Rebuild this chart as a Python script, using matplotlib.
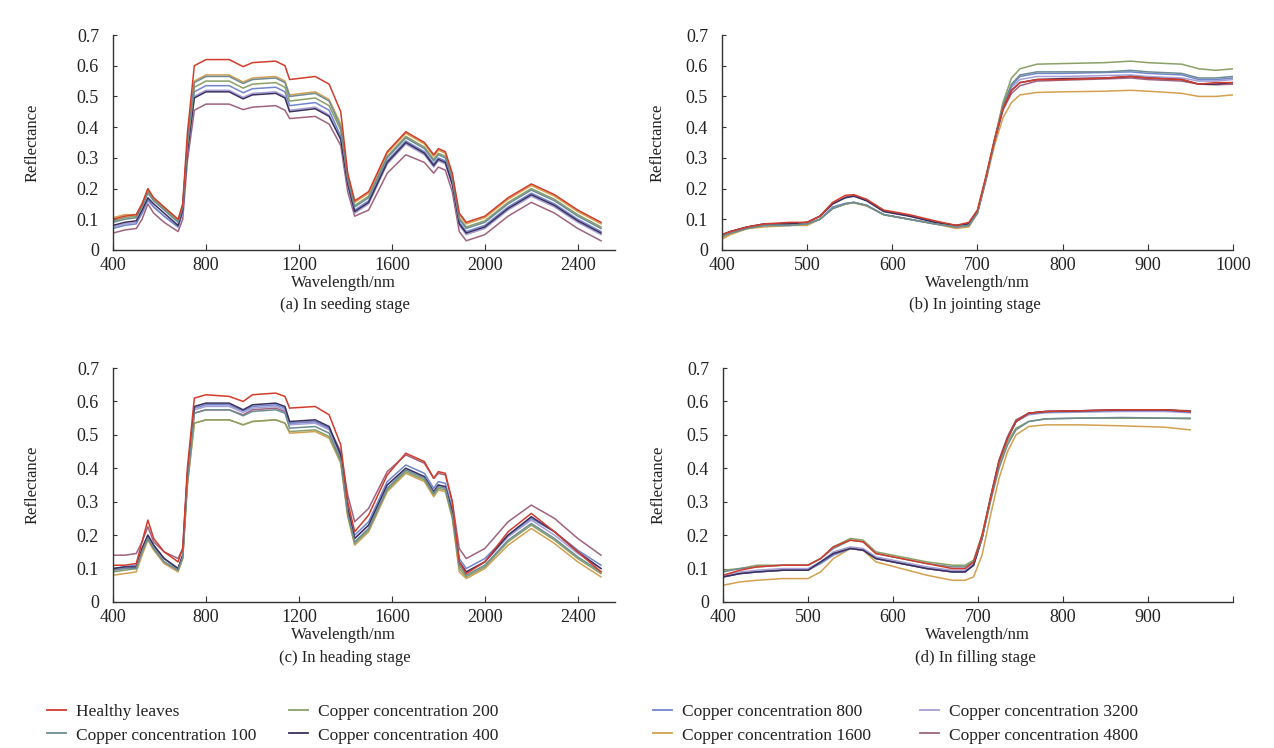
import matplotlib
matplotlib.use("Agg")
from matplotlib import pyplot as plt

plt.rcParams['font.family'] = ['Liberation Serif', 'DejaVu Serif']

# 图例名称和颜色
names = ["Healthy leaves", "Copper concentration 100", "Copper concentration 200",
         "Copper concentration 400", "Copper concentration 800", "Copper concentration 1600",
         "Copper concentration 3200", "Copper concentration 4800"]
colors = ["#d23c2c", "#6d8c93", "#8aa067", "#3b2f5e", "#7186cc", "#d4a050", "#a7a0d6", "#a0637f"]

# (a) seeding stage / (c) heading stage 的波长
wl_ac = [400, 450, 500, 525, 550, 575, 620, 680, 700, 720,
         750, 800, 900, 960, 1000, 1100, 1140, 1160, 1270, 1330,
         1380, 1410, 1440, 1500, 1580, 1660, 1740, 1780, 1800, 1830,
         1860, 1890, 1920, 2000, 2100, 2200, 2300, 2400, 2500]

seeding = [
    [.10, .11, .115, .15, .20, .17, .14, .10, .15, .38, .60, .62, .62, .597, .61, .615, .60, .555, .565, .54,
     .45, .25, .16, .19, .32, .385, .35, .31, .33, .32, .25, .12, .09, .11, .17, .215, .18, .13, .09],
    [.09, .10, .105, .14, .185, .16, .13, .09, .14, .35, .545, .565, .565, .542, .555, .56, .545, .50, .51, .485,
     .40, .23, .14, .17, .30, .365, .33, .29, .31, .30, .23, .10, .07, .09, .15, .195, .16, .11, .07],
    [.095, .105, .11, .145, .19, .165, .135, .095, .145, .34, .53, .55, .55, .527, .54, .545, .53, .485, .495, .47,
     .39, .235, .145, .175, .305, .37, .335, .295, .315, .305, .235, .105, .075, .095, .155, .20, .165, .115, .075],
    [.08, .09, .095, .13, .17, .15, .12, .08, .13, .32, .495, .515, .515, .492, .505, .51, .495, .45, .46, .435,
     .36, .215, .125, .155, .285, .35, .315, .275, .295, .285, .215, .085, .055, .075, .135, .18, .145, .095, .055],
    [.07, .08, .085, .12, .165, .14, .11, .075, .125, .33, .515, .535, .535, .512, .525, .53, .515, .47, .48, .455,
     .37, .22, .13, .16, .29, .355, .32, .28, .30, .29, .22, .09, .06, .08, .14, .185, .15, .10, .06],
    [.105, .115, .115, .15, .195, .165, .135, .095, .145, .35, .55, .57, .57, .547, .56, .565, .55, .505, .515, .49,
     .41, .245, .155, .185, .315, .38, .345, .305, .325, .315, .245, .115, .085, .105, .165, .21, .175, .125, .085],
    [.075, .085, .09, .12, .16, .14, .11, .075, .12, .32, .50, .52, .52, .497, .51, .515, .50, .455, .465, .44,
     .36, .21, .12, .15, .28, .345, .31, .27, .29, .28, .21, .08, .05, .07, .13, .175, .14, .09, .05],
    [.055, .065, .07, .10, .15, .12, .09, .06, .10, .29, .455, .475, .475, .457, .465, .47, .455, .428, .435, .41,
     .34, .19, .11, .13, .25, .31, .285, .25, .27, .26, .19, .06, .03, .05, .11, .155, .12, .07, .03],
]

heading = [
    [.11, .11, .115, .18, .245, .19, .15, .12, .16, .40, .61, .62, .615, .60, .62, .625, .615, .58, .585, .56,
     .47, .30, .21, .26, .38, .445, .42, .37, .39, .385, .30, .12, .085, .12, .21, .265, .21, .15, .09],
    [.095, .10, .10, .15, .19, .16, .12, .095, .135, .36, .565, .575, .575, .557, .57, .575, .565, .52, .525, .505,
     .425, .265, .18, .22, .34, .395, .37, .325, .345, .34, .26, .11, .08, .11, .185, .235, .19, .135, .09],
    [.09, .095, .10, .15, .19, .16, .12, .095, .13, .35, .535, .545, .545, .53, .54, .545, .535, .51, .515, .495,
     .42, .26, .175, .215, .335, .39, .365, .32, .34, .335, .255, .10, .075, .105, .18, .23, .185, .13, .085],
    [.10, .105, .105, .16, .20, .17, .13, .10, .14, .38, .585, .595, .595, .575, .59, .595, .585, .54, .545, .525,
     .44, .28, .19, .23, .35, .40, .375, .33, .35, .345, .27, .12, .09, .12, .20, .255, .21, .15, .10],
    [.10, .105, .11, .16, .20, .17, .13, .10, .14, .38, .58, .59, .59, .572, .585, .59, .58, .535, .54, .52,
     .44, .28, .20, .24, .36, .41, .385, .34, .36, .355, .28, .13, .10, .13, .20, .25, .21, .155, .11],
    [.08, .085, .09, .14, .185, .155, .115, .09, .13, .35, .535, .545, .545, .53, .54, .545, .535, .505, .51, .49,
     .415, .255, .17, .21, .33, .385, .36, .315, .335, .33, .25, .09, .07, .10, .17, .22, .175, .12, .075],
    [.10, .10, .105, .155, .195, .165, .13, .10, .14, .37, .575, .585, .585, .567, .58, .585, .575, .53, .535, .515,
     .435, .275, .19, .23, .35, .40, .375, .33, .35, .345, .27, .12, .09, .12, .195, .245, .20, .145, .10],
    [.14, .14, .145, .18, .225, .18, .15, .13, .16, .38, .565, .575, .575, .56, .575, .58, .57, .535, .54, .52,
     .45, .32, .24, .28, .39, .44, .415, .37, .385, .38, .30, .16, .13, .16, .24, .29, .25, .19, .14],
]

# (b) jointing stage
wl_b = [400, 410, 430, 450, 480, 500, 515, 530, 545, 555, 570, 590, 620, 650, 675, 690,
        700, 710, 720, 730, 740, 750, 770, 800, 850, 880, 900, 940, 960, 980, 1000]

jointing = [
    [.05, .06, .075, .085, .09, .09, .11, .155, .178, .18, .165, .13, .115, .095, .08, .09,
     .13, .24, .36, .46, .52, .545, .555, .555, .56, .565, .56, .555, .54, .545, .545],
    [.045, .055, .07, .08, .08, .085, .10, .135, .15, .155, .145, .115, .10, .085, .075, .08,
     .12, .23, .355, .47, .54, .57, .58, .58, .58, .585, .58, .575, .56, .56, .565],
    [.04, .055, .07, .08, .08, .085, .10, .135, .15, .155, .145, .115, .10, .085, .075, .08,
     .12, .23, .36, .48, .56, .59, .605, .607, .61, .615, .61, .605, .59, .585, .59],
    [.05, .06, .075, .085, .085, .09, .11, .15, .17, .175, .16, .125, .11, .09, .08, .085,
     .125, .235, .355, .46, .52, .545, .555, .558, .56, .565, .56, .555, .54, .54, .545],
    [.05, .06, .075, .08, .085, .085, .10, .14, .152, .155, .145, .115, .10, .085, .075, .08,
     .12, .23, .355, .47, .535, .565, .575, .575, .578, .58, .575, .57, .555, .555, .56],
    [.035, .05, .07, .075, .08, .08, .10, .135, .15, .153, .143, .115, .10, .085, .07, .075,
     .12, .225, .34, .43, .48, .505, .513, .515, .517, .52, .517, .51, .50, .50, .505],
    [.045, .055, .07, .08, .08, .085, .10, .135, .15, .155, .145, .115, .10, .085, .075, .08,
     .12, .23, .35, .46, .53, .555, .565, .565, .568, .57, .565, .56, .55, .55, .555],
    [.045, .06, .075, .085, .085, .09, .11, .15, .172, .178, .162, .127, .112, .092, .08, .085,
     .125, .235, .35, .455, .51, .535, .55, .553, .557, .56, .555, .55, .54, .538, .54],
]

# (d) filling stage
wl_d = [400, 420, 440, 470, 500, 515, 530, 550, 565, 580, 610, 640, 670,
        685, 695, 705, 715, 725, 735, 745, 760, 780, 820, 870, 920, 950]

filling = [
    [.08, .095, .105, .11, .11, .13, .165, .185, .18, .145, .13, .115, .10,
     .10, .12, .20, .31, .42, .49, .54, .565, .57, .572, .575, .575, .57],
    [.09, .10, .105, .11, .11, .13, .16, .185, .18, .145, .13, .115, .105,
     .105, .12, .19, .30, .40, .47, .515, .54, .548, .55, .552, .55, .55],
    [.095, .10, .11, .11, .11, .13, .165, .19, .185, .15, .135, .12, .11,
     .11, .125, .20, .31, .41, .48, .52, .54, .548, .55, .55, .55, .548],
    [.075, .085, .09, .095, .095, .12, .145, .16, .155, .13, .115, .10, .09,
     .09, .11, .19, .31, .42, .49, .54, .565, .57, .572, .575, .575, .57],
    [.075, .085, .09, .095, .095, .115, .14, .16, .155, .13, .115, .10, .09,
     .09, .11, .19, .31, .42, .49, .54, .563, .568, .57, .573, .573, .568],
    [.05, .06, .065, .07, .07, .09, .13, .16, .155, .12, .10, .08, .065,
     .065, .075, .14, .26, .37, .45, .50, .525, .53, .53, .527, .523, .515],
    [.08, .09, .095, .10, .10, .12, .15, .165, .16, .135, .12, .105, .095,
     .095, .115, .19, .31, .42, .49, .54, .56, .566, .568, .57, .57, .566],
    [.075, .085, .09, .095, .095, .12, .145, .16, .155, .13, .115, .10, .09,
     .09, .11, .195, .315, .425, .495, .545, .565, .57, .572, .575, .575, .572],
]

captions = ["(a) In seeding stage", "(b) In jointing stage",
            "(c) In heading stage", "(d) In filling stage"]

fig = plt.figure(figsize=(12.74, 7.48), dpi=100)

# 子图位置
rects = [[0.0887, 0.6658, 0.394, 0.2874],
         [0.5667, 0.6658, 0.401, 0.2874],
         [0.0887, 0.1952, 0.394, 0.3128],
         [0.5675, 0.1952, 0.4, 0.3128]]
panels = [(wl_ac, seeding), (wl_b, jointing), (wl_ac, heading), (wl_d, filling)]
xlims = [(400, 2560), (400, 1000), (400, 2560), (400, 1000)]
xticks = [[400, 800, 1200, 1600, 2000, 2400],
          [400, 500, 600, 700, 800, 900, 1000],
          [400, 800, 1200, 1600, 2000, 2400],
          [400, 500, 600, 700, 800, 900, 1000]]

axes = []
for i in range(4):
    ax = fig.add_axes(rects[i])
    wl, data = panels[i]
    order = [7, 6, 5, 4, 3, 2, 1, 0]
    for k in order:
        ax.plot(wl, data[k], color=colors[k], lw=1.1)
    ax.set_xlim(*xlims[i])
    ax.set_ylim(0, 0.7)
    ax.set_xticks(xticks[i])
    if i == 3:
        ax.set_xticklabels(["400", "500", "600", "700", "800", "900", ""])
    ax.set_yticks([0, 0.1, 0.2, 0.3, 0.4, 0.5, 0.6, 0.7])
    ax.set_yticklabels(["0", "0.1", "0.2", "0.3", "0.4", "0.5", "0.6", "0.7"])
    for s in ["top", "right"]:
        ax.spines[s].set_visible(False)
    for s in ["left", "bottom"]:
        ax.spines[s].set_color("#333333")
        ax.spines[s].set_linewidth(1.0)
    ax.tick_params(direction="in", length=4, width=0.8, colors="#333333",
                   labelsize=13, labelcolor="#222222")
    ax.tick_params(axis="x", pad=5)
    ax.tick_params(axis="y", length=3, pad=10)
    ax.set_xlabel("Wavelength/nm", fontsize=12, color="#222222")
    ax.set_ylabel("Reflectance", fontsize=12, color="#222222")
    axes.append(ax)

# 标签位置
axes[0].xaxis.set_label_coords(0.46, -0.118)
axes[1].xaxis.set_label_coords(0.5, -0.118)
axes[2].xaxis.set_label_coords(0.46, -0.108)
axes[3].xaxis.set_label_coords(0.5, -0.108)
axes[0].yaxis.set_label_coords(-0.145, 0.5)
axes[2].yaxis.set_label_coords(-0.145, 0.5)
axes[1].yaxis.set_label_coords(-0.11, 0.5)
axes[3].yaxis.set_label_coords(-0.11, 0.5)

fig.text(345 / 1274, 1 - 305 / 748, captions[0], ha="center", va="center", fontsize=12, color="#222222")
fig.text(975 / 1274, 1 - 305 / 748, captions[1], ha="center", va="center", fontsize=12, color="#222222")
fig.text(345 / 1274, 1 - 658 / 748, captions[2], ha="center", va="center", fontsize=12, color="#222222")
fig.text(975 / 1274, 1 - 658 / 748, captions[3], ha="center", va="center", fontsize=12, color="#222222")

# 图例: 四列
handles = [plt.Line2D([], [], color=c, lw=1.3) for c in colors]
col_x = [40, 282, 646, 913]
for j in range(4):
    leg = fig.legend(handles[2 * j:2 * j + 2], names[2 * j:2 * j + 2],
                     loc="upper left", bbox_to_anchor=(col_x[j] / 1274, 1 - 697 / 748),
                     frameon=False, fontsize=12.5, handlelength=1.1, handletextpad=0.6,
                     labelspacing=0.42, borderaxespad=0)
    for t in leg.get_texts():
        t.set_color("#222222")

fig.savefig("out.png", dpi=100)
